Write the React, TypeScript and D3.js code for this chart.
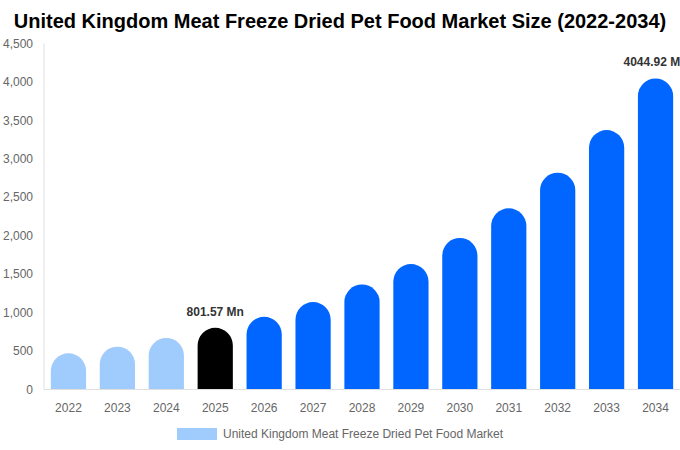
import React from "react";
import * as d3 from "d3";

const years = ["2022","2023","2024","2025","2026","2027","2028","2029","2030","2031","2032","2033","2034"];
const values = [471, 557, 670, 801.57, 945, 1137, 1366, 1631, 1970, 2356, 2819, 3374, 4044.92];
const yTicks = [0, 500, 1000, 1500, 2000, 2500, 3000, 3500, 4000, 4500];
const labeled: Record<string, string> = { "2025": "801.57 Mn", "2034": "4044.92 Mn" };
const title = "United Kingdom Meat Freeze Dried Pet Food Market Size (2022-2034)";
const legendLabel = "United Kingdom Meat Freeze Dried Pet Food Market";

const W = 680, H = 450;
const margin = { left: 44, right: 0, top: 43.5, bottom: 60.5 };

function colorFor(y: string) {
  const n = +y;
  if (n < 2025) return "#a0cbfd";
  if (n === 2025) return "#000000";
  return "#0066ff";
}

function barPath(x: number, w: number, yTop: number, yBase: number) {
  const r = Math.min(w / 2, (yBase - yTop));
  return `M${x},${yBase} L${x},${yTop + r} A${r},${r} 0 0 1 ${x + w},${yTop + r} L${x + w},${yBase} Z`;
}

export default function App() {
  const x = d3.scaleBand().domain(years).range([margin.left, W - margin.right]).paddingInner(0.28).paddingOuter(0.14);
  const y = d3.scaleLinear().domain([0, 4500]).range([H - margin.bottom, margin.top]);
  const font = "'Liberation Sans', Arial, sans-serif";
  const base = y(0);
  return (
    <svg width={W} height={H} style={{ position: "absolute", left: 0, top: 0, fontFamily: font }}>
      <rect width={W} height={H} fill="#fff" />
      <text x={W / 2} y={28} textAnchor="middle" fontSize={20} fontWeight="bold" fill="#000">{title}</text>
      <line x1={margin.left} x2={margin.left} y1={margin.top} y2={base} stroke="#e0e0e0" />
      {yTicks.map(t => (
        <text key={t} x={33} y={y(t)} dy="0.35em" textAnchor="end" fontSize={12} fill="#666">{d3.format(",")(t)}</text>
      ))}
      {years.map((yr, i) => {
        const bx = x(yr)!;
        const bw = x.bandwidth();
        return (
          <g key={yr}>
            <path d={barPath(bx, bw, y(values[i]), base)} fill={colorFor(yr)} />
            <text x={bx + bw / 2} y={base + 22} textAnchor="middle" fontSize={12} fill="#666">{yr}</text>
            {labeled[yr] && (
              <text x={bx + bw / 2} y={y(values[i]) - 12} textAnchor="middle" fontSize={12} fontWeight="bold" fill="#333">{labeled[yr]}</text>
            )}
          </g>
        );
      })}
      <line x1={margin.left} x2={W} y1={base} y2={base} stroke="#e0e0e0" />
      <rect x={177} y={428} width={40} height={12} fill="#a0cbfd" />
      <text x={223} y={434} dy="0.35em" fontSize={12} fill="#666">{legendLabel}</text>
    </svg>
  );
}
